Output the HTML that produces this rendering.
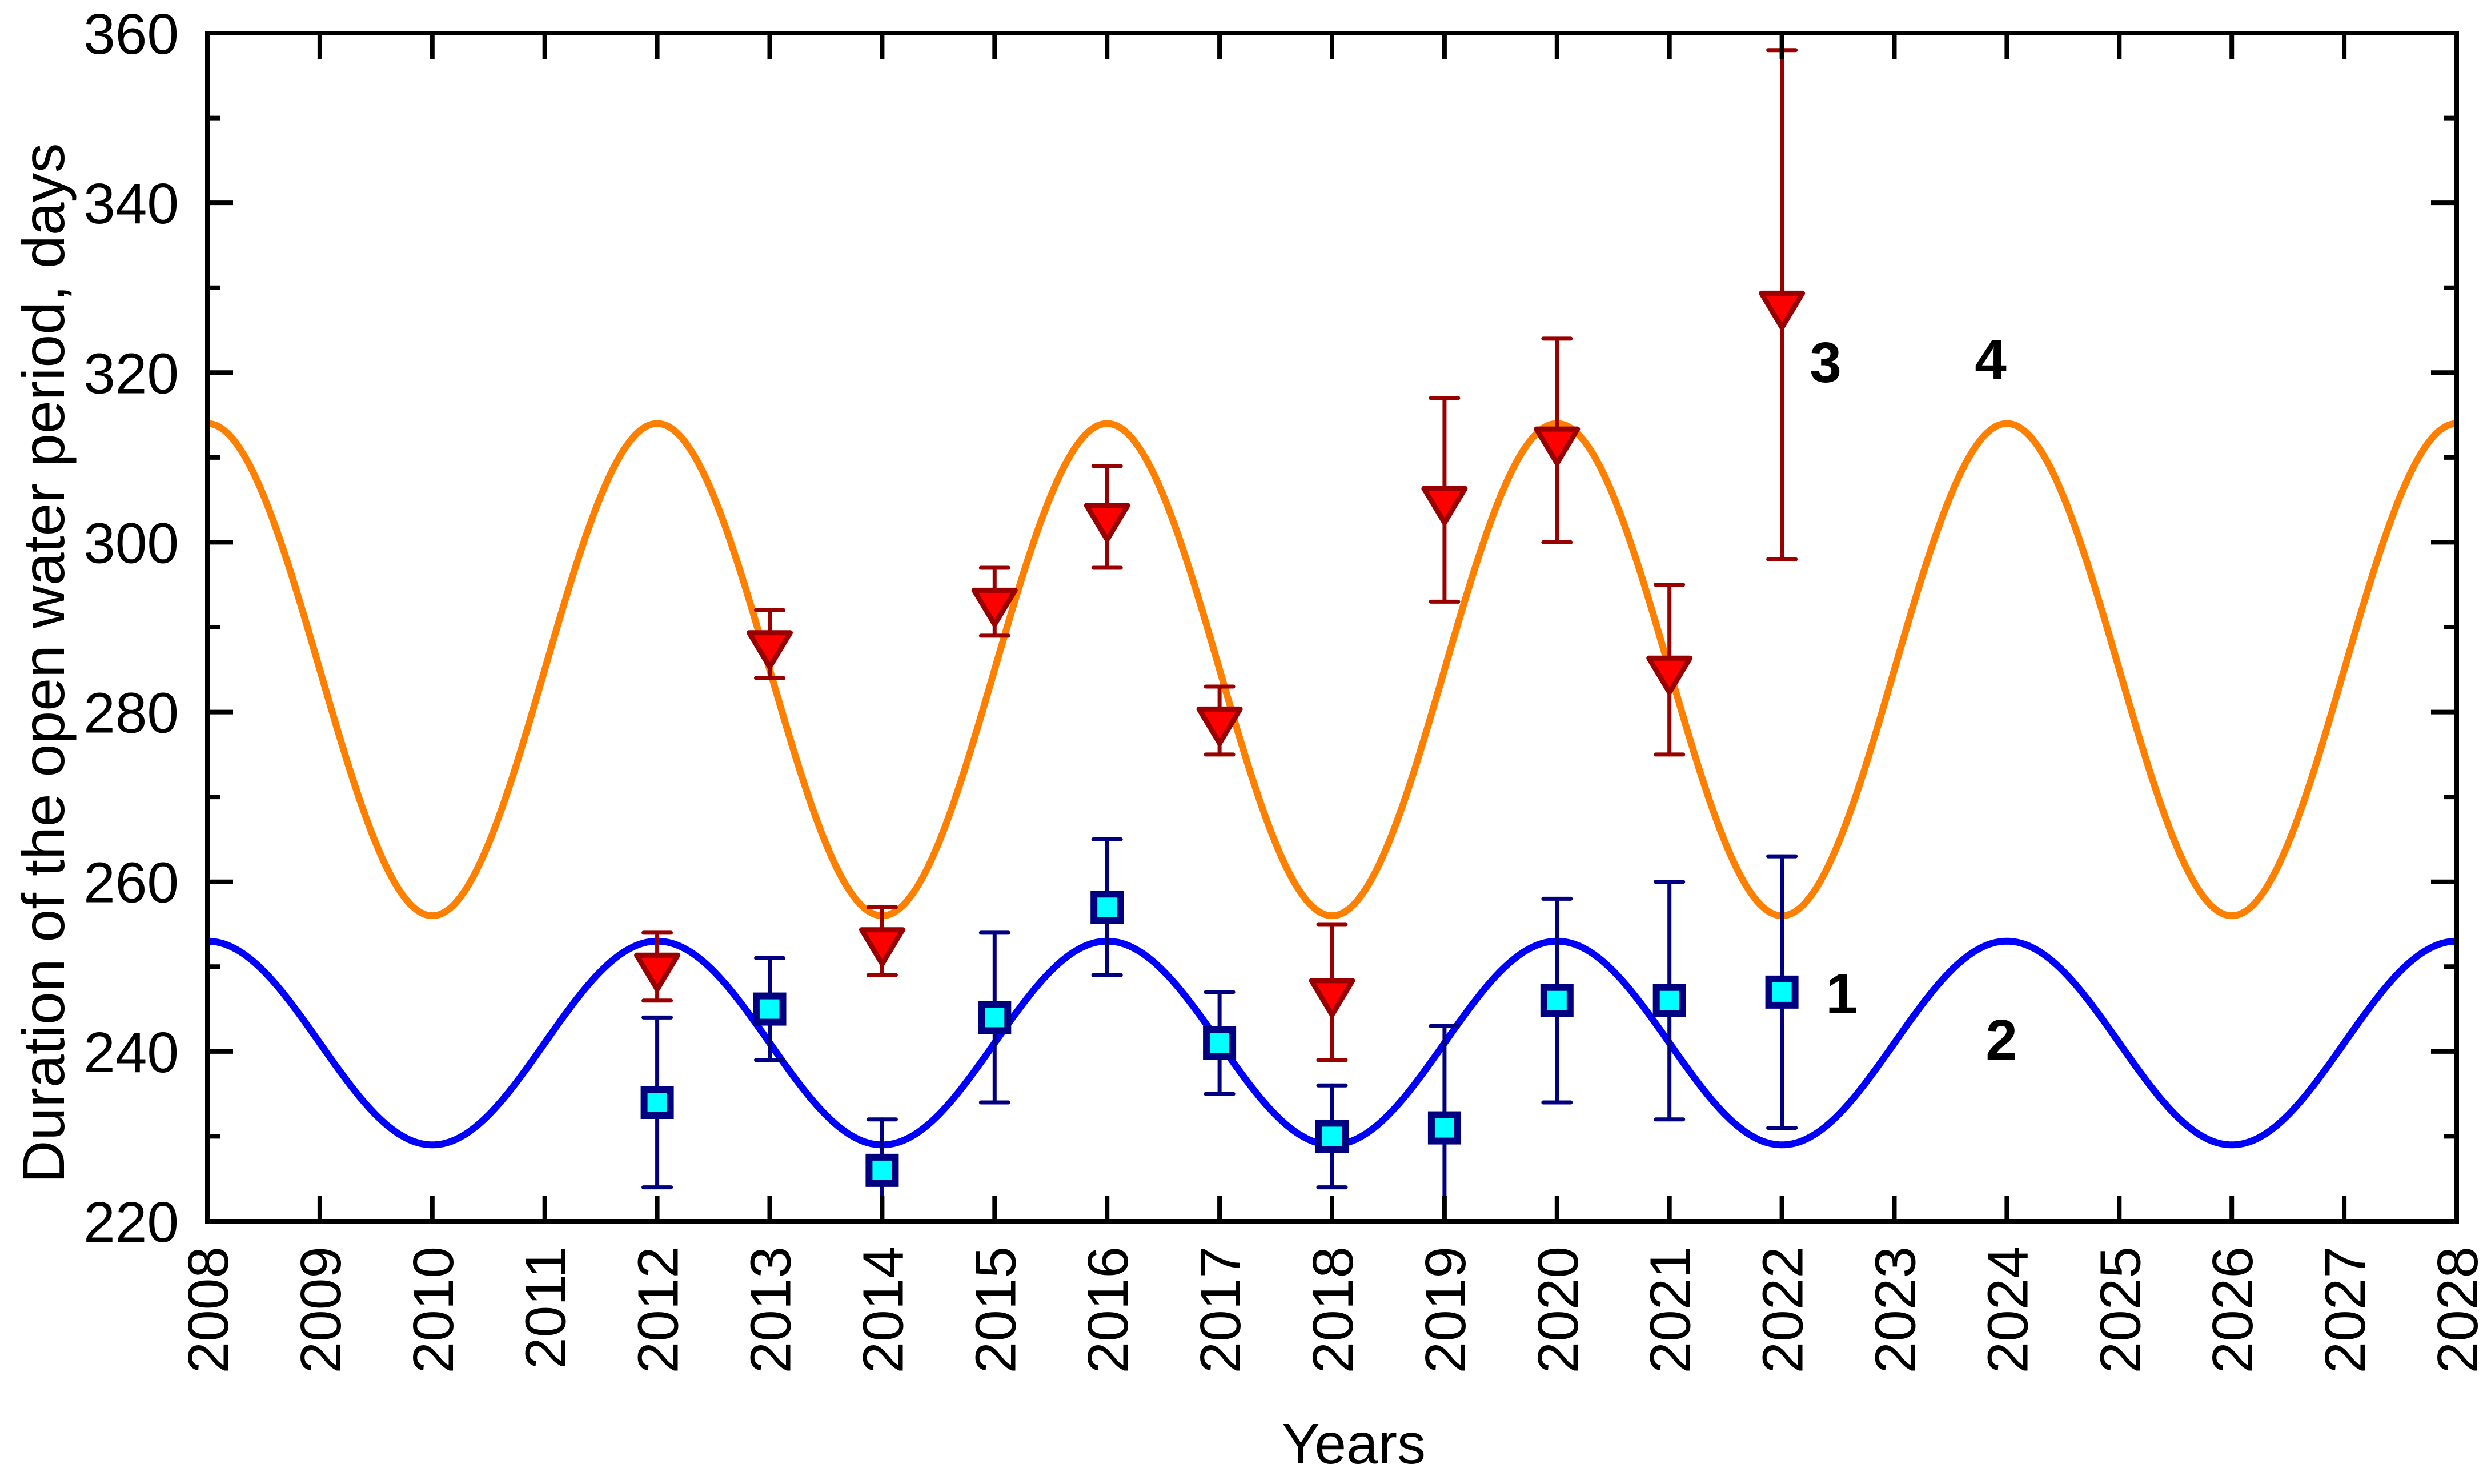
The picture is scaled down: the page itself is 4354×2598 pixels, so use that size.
<!DOCTYPE html>
<html><head><meta charset="utf-8"><style>
html,body{margin:0;padding:0;background:#fff;}
svg{display:block;font-family:"Liberation Sans",Arial,sans-serif;}
</style></head><body>
<svg id="chart" width="4354" height="2598" viewBox="0 0 4354 2598" xmlns="http://www.w3.org/2000/svg"></svg>
<script>
const years = [2012,2013,2014,2015,2016,2017,2018,2019,2020,2021,2022];
const series1Values = [234,245,226,244,257,241,230,231,246,246,247];
const series1Err = [10,6,6,10,8,6,6,12,12,14,16];
const series3Values = [250,288,253,293,303,279,247,305,312,285,328];
const series3Err = [4,4,4,4,6,4,8,12,12,10,30];
const fit2 = [241,12];   // mean, amplitude (blue sinusoid)
const fit4 = [285,29];   // mean, amplitude (orange sinusoid)
const fitPeriod = 4, fitPhaseYear = 2008;
const xTicks = [2008,2009,2010,2011,2012,2013,2014,2015,2016,2017,2018,2019,2020,2021,2022,2023,2024,2025,2026,2027,2028];
const yTicks = [220,240,260,280,300,320,340,360];

const L=363,R=4301,T=58,B=2138,X0=2008,X1=2028,Y0=220,Y1=360;
const sx=v=>L+(v-X0)/(X1-X0)*(R-L);
const sy=v=>B-(v-Y0)/(Y1-Y0)*(B-T);
const svg=document.getElementById('chart');
const NS='http://www.w3.org/2000/svg';
function mk(tag,attrs,parent){const e=document.createElementNS(NS,tag);for(const k in attrs)e.setAttribute(k,attrs[k]);(parent||svg).appendChild(e);return e;}

function curve(p,color,name){
  let d='';
  for(let i=0;i<=800;i++){const x=X0+(X1-X0)*i/800;const y=p[0]+p[1]*Math.cos(2*Math.PI*(x-fitPhaseYear)/fitPeriod);d+=(i?'L':'M')+sx(x).toFixed(1)+' '+sy(y).toFixed(1);}
  const e=mk('path',{d:d,fill:'none',stroke:color,'stroke-width':12});
  
  
}
curve(fit4,'#ff8000','fit-curve-4');
curve(fit2,'#0000ff','fit-curve-2');

function errbar(x,v,e,color,name){
  const g=mk('g',{stroke:color,'stroke-width':7,'stroke-linecap':'round'});
  
  
  const cx=sx(x),y1=Math.max(sy(v+e),T),y2=Math.min(sy(v-e),B);
  mk('line',{x1:cx,x2:cx,y1:y1,y2:y2},g);
  if(v+e<=Y1) mk('line',{x1:cx-24,x2:cx+24,y1:sy(v+e),y2:sy(v+e)},g);
  if(v-e>=Y0) mk('line',{x1:cx-24,x2:cx+24,y1:sy(v-e),y2:sy(v-e)},g);
}
years.forEach((yr,i)=>{
  errbar(yr,series3Values[i],series3Err[i],'#990000','error-bar-3-'+yr);
  const cx=sx(yr),cy=sy(series3Values[i]);const w=72,h=60;
  const t=mk('polygon',{points:`${cx-w/2},${cy-h/3} ${cx+w/2},${cy-h/3} ${cx},${cy+2*h/3}`,fill:'#ff0000',stroke:'#990000','stroke-width':9,'stroke-linejoin':'round'});
  
  
});
years.forEach((yr,i)=>{
  errbar(yr,series1Values[i],series1Err[i],'#000080','error-bar-1-'+yr);
  const cx=sx(yr),cy=sy(series1Values[i]);
  const s=mk('rect',{x:cx-23,y:cy-23,width:46,height:46,fill:'#00ffff',stroke:'#000080','stroke-width':12});
  
  
});

const fr=mk('rect',{x:L,y:T,width:R-L,height:B-T,fill:'none',stroke:'#000','stroke-width':8});



xTicks.forEach(v=>{
  const x=sx(v);
  mk('line',{x1:x,x2:x,y1:B,y2:B-45,stroke:'#000','stroke-width':8});
  mk('line',{x1:x,x2:x,y1:T,y2:T+45,stroke:'#000','stroke-width':8});
  const t=mk('text',{x:0,y:0,'font-size':100,'text-anchor':'end',transform:`translate(${x+36},2182) rotate(-90)`});
  t.textContent=v;
  
  
});
for(let v=Y0;v<=Y1;v+=10){
  const y=sy(v),len=(v%20===0)?45:22;
  mk('line',{x1:L,x2:L+len,y1:y,y2:y,stroke:'#000','stroke-width':8});
  mk('line',{x1:R,x2:R-len,y1:y,y2:y,stroke:'#000','stroke-width':8});
}
yTicks.forEach(v=>{
  const t=mk('text',{x:313,y:sy(v)+36,'font-size':100,'text-anchor':'end'});
  t.textContent=v;
  
  
});

const xt=mk('text',{x:2370,y:2562,'font-size':100,'text-anchor':'middle'});
xt.textContent='Years';


const yt=mk('text',{x:0,y:0,'font-size':104,'text-anchor':'middle',transform:'translate(112,1161) rotate(-90)'});
yt.textContent='Duration of the open water period, days';



[['1',3224,1738],['2',3504,1819],['3',3196,633],['4',3485,628]].forEach(a=>{
  const t=mk('text',{x:a[1],y:a[2]+36,'font-size':100,'font-weight':'bold','text-anchor':'middle'});
  t.textContent=a[0];
  
  
});
</script>
</body></html>
